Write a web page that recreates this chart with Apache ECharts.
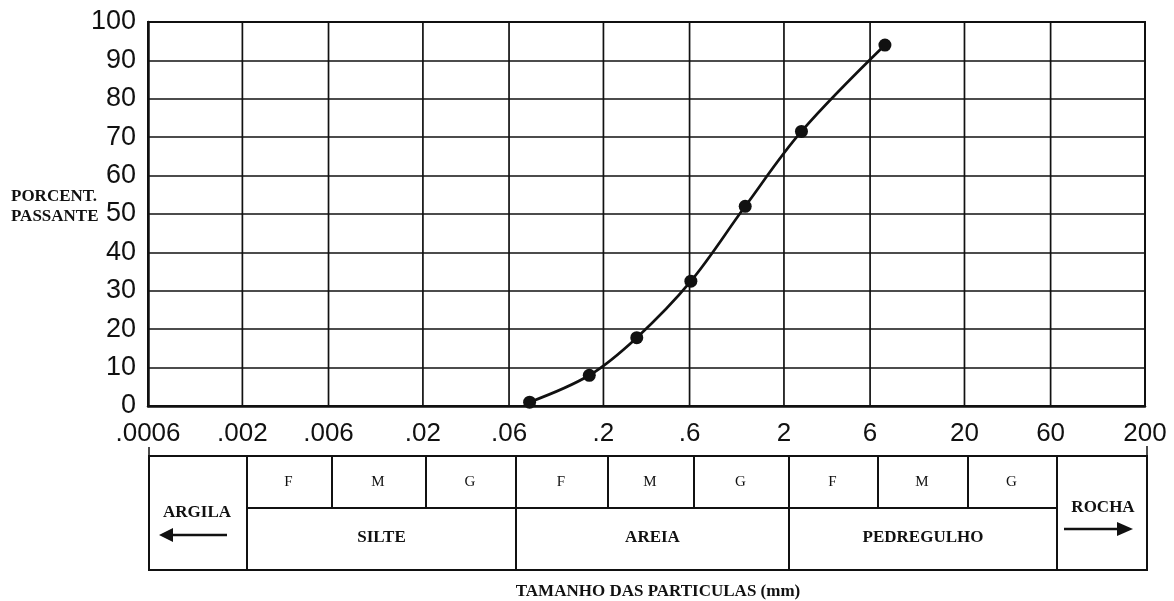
<!DOCTYPE html>
<html>
<head>
<meta charset="utf-8">
<script src="https://cdn.jsdelivr.net/npm/echarts@6/dist/echarts.min.js"></script>
<style>
html,body{margin:0;padding:0;background:#fff;}
#chart{width:1174px;height:601px;}
</style>
</head>
<body>
<div id="chart"></div>
<script>
// ---- data ----
var tickValues = [0.0006, 0.002, 0.006, 0.02, 0.06, 0.2, 0.6, 2, 6, 20, 60, 200];
var tickLabels = ['.0006', '.002', '.006', '.02', '.06', '.2', '.6', '2', '6', '20', '60', '200'];
var particleSizeMm = [0.078, 0.167, 0.306, 0.61, 1.22, 2.5, 7.25];
var percentPassing = [1, 8, 17.8, 32.5, 52, 71.5, 94];
var subClasses = ['F', 'M', 'G'];
var mainClasses = ['SILTE', 'AREIA', 'PEDREGULHO'];
var endClasses = ['ARGILA', 'ROCHA'];
var yTitle = ['PORCENT.', 'PASSANTE'];
var xTitle = 'TAMANHO DAS PARTICULAS (mm)';

var SERIF = '"Liberation Serif","Times New Roman",serif';
var SANS = '"Liberation Sans",Arial,sans-serif';
var INK = '#111';

var chart = echarts.init(document.getElementById('chart'), null, {renderer: 'canvas'});

// ---- table layout (decoration under axis) ----
var colX = [149, 247, 332, 426, 516, 608, 694, 789, 878, 968, 1057, 1147];
var tTop = 456, tMid = 508, tBot = 570;
var g = [];
g.push({type: 'rect', shape: {x: colX[0], y: tTop, width: colX[11] - colX[0], height: tBot - tTop},
  style: {fill: 'none', stroke: INK, lineWidth: 2}});
[1, 4, 7, 10].forEach(function (i) {
  g.push({type: 'line', shape: {x1: colX[i], y1: tTop, x2: colX[i], y2: tBot}, style: {stroke: INK, lineWidth: 2}});
});
[2, 3, 5, 6, 8, 9].forEach(function (i) {
  g.push({type: 'line', shape: {x1: colX[i], y1: tTop, x2: colX[i], y2: tMid}, style: {stroke: INK, lineWidth: 2}});
});
g.push({type: 'line', shape: {x1: colX[1], y1: tMid, x2: colX[10], y2: tMid}, style: {stroke: INK, lineWidth: 2}});
g.push({type: 'line', shape: {x1: colX[0], y1: 447, x2: colX[0], y2: tTop}, style: {stroke: INK, lineWidth: 1.5}});
g.push({type: 'line', shape: {x1: colX[11], y1: 446, x2: colX[11], y2: tTop}, style: {stroke: INK, lineWidth: 1.5}});
for (var grp = 0; grp < 3; grp++) {
  for (var k = 0; k < 3; k++) {
    var a = colX[1 + grp * 3 + k], b = colX[2 + grp * 3 + k];
    g.push({type: 'text', x: (a + b) / 2 - 1, y: 482,
      style: {text: subClasses[k], font: '15px ' + SERIF, fill: INK, textAlign: 'center', textVerticalAlign: 'middle'}});
  }
  var a2 = colX[1 + grp * 3], b2 = colX[4 + grp * 3];
  g.push({type: 'text', x: (a2 + b2) / 2, y: 538,
    style: {text: mainClasses[grp], font: 'bold 17px ' + SERIF, fill: INK, textAlign: 'center', textVerticalAlign: 'middle'}});
}
g.push({type: 'text', x: 197, y: 513,
  style: {text: endClasses[0], font: 'bold 17px ' + SERIF, fill: INK, textAlign: 'center', textVerticalAlign: 'middle'}});
g.push({type: 'line', shape: {x1: 170, y1: 535, x2: 227, y2: 535}, style: {stroke: INK, lineWidth: 2.5}});
g.push({type: 'polygon', shape: {points: [[159, 535], [173, 528], [173, 542]]}, style: {fill: INK}});
g.push({type: 'text', x: 1103, y: 508,
  style: {text: endClasses[1], font: 'bold 17px ' + SERIF, fill: INK, textAlign: 'center', textVerticalAlign: 'middle'}});
g.push({type: 'line', shape: {x1: 1064, y1: 529, x2: 1120, y2: 529}, style: {stroke: INK, lineWidth: 2.5}});
g.push({type: 'polygon', shape: {points: [[1133, 529], [1117, 522], [1117, 536]]}, style: {fill: INK}});
g.push({type: 'text', x: 658, y: 592,
  style: {text: xTitle, font: 'bold 17px ' + SERIF, fill: INK, textAlign: 'center', textVerticalAlign: 'middle'}});
g.push({type: 'text', x: 11, y: 197,
  style: {text: yTitle[0], font: 'bold 17px ' + SERIF, fill: INK, textAlign: 'left', textVerticalAlign: 'middle'}});
g.push({type: 'text', x: 11, y: 217,
  style: {text: yTitle[1], font: 'bold 17px ' + SERIF, fill: INK, textAlign: 'left', textVerticalAlign: 'middle'}});

var option = {
  animation: false,
  backgroundColor: '#fff',
  grid: {left: 148, right: 29, top: 22, bottom: 195, show: true, borderColor: INK, borderWidth: 2, backgroundColor: 'transparent'},
  xAxis: {
    type: 'log', logBase: 10, min: tickValues[0], max: tickValues[tickValues.length - 1],
    axisLine: {show: true, lineStyle: {color: INK, width: 2.5}},
    axisTick: {show: false}, axisLabel: {show: false}, splitLine: {show: false}, minorTick: {show: false}
  },
  yAxis: {
    type: 'value', min: 0, max: 100, interval: 10,
    axisLine: {show: true, lineStyle: {color: INK, width: 2.5}},
    axisTick: {show: false},
    axisLabel: {fontSize: 27, fontFamily: SANS, color: INK, margin: 12},
    splitLine: {show: true, lineStyle: {color: INK, width: 1.7}}
  },
  series: [
    {
      // vertical grid lines and tick labels at the chart's size classes, placed through the log x scale
      type: 'custom', z: 1, silent: true, clip: false,
      data: tickValues.map(function (v) { return [v, 0]; }),
      renderItem: function (params, api) {
        var v = api.value(0);
        var p0 = api.coord([v, 0]);
        var p1 = api.coord([v, 100]);
        return {
          type: 'group',
          children: [
            {type: 'line', shape: {x1: p0[0], y1: p0[1], x2: p1[0], y2: p1[1]},
              style: {stroke: INK, lineWidth: 1.7}},
            {type: 'text', x: p0[0], y: p0[1] + 28,
              style: {text: tickLabels[params.dataIndex], font: '26px ' + SANS, fill: INK,
                textAlign: 'center', textVerticalAlign: 'middle'}}
          ]
        };
      }
    },
    {
      type: 'line', z: 5, smooth: 0.35,
      data: particleSizeMm.map(function (v, i) { return [v, percentPassing[i]]; }),
      symbol: 'circle', symbolSize: 13,
      itemStyle: {color: INK},
      lineStyle: {color: INK, width: 2.7}
    }
  ],
  graphic: g
};
chart.setOption(option);
</script>
</body>
</html>
